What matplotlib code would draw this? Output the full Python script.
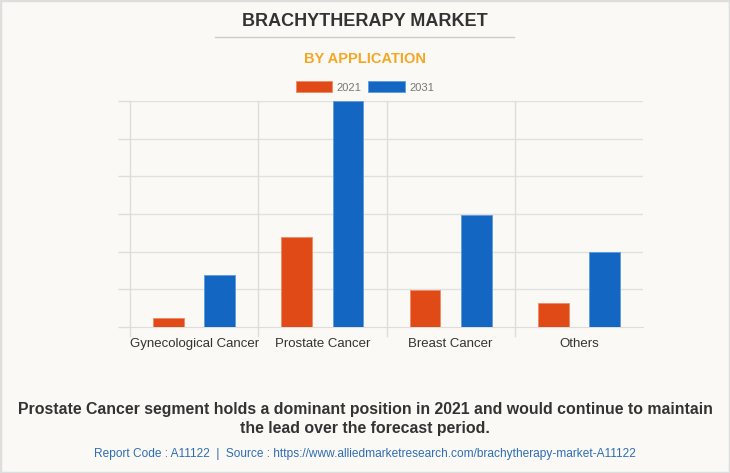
import matplotlib
matplotlib.use("Agg")
import matplotlib.pyplot as plt
from matplotlib.patches import Rectangle, Patch
from matplotlib.lines import Line2D
import numpy as np

categories = ["Gynecological Cancer", "Prostate Cancer", "Breast Cancer", "Others"]
series_names = ["2021", "2031"]
values_2021 = [0.24, 2.38, 0.98, 0.65]
values_2031 = [1.37, 6.0, 2.97, 2.0]
colors = ["#e04a16", "#1366c2"]
edge_colors = ["#ee8a66", "#5f9ae0"]

W, H = 730, 473
bg = "#faf9f5"
fig = plt.figure(figsize=(W / 100, H / 100), dpi=100, facecolor=bg)

# border
fig.patches.append(Rectangle((0, 0), 1, 1, transform=fig.transFigure,
                             fill=False, edgecolor="#dedede", linewidth=2.5))

def fx(px):
    return px / W

def fy(py):
    return 1 - py / H

fig.text(0.5, fy(21), "BRACHYTHERAPY MARKET", ha="center", va="center",
         fontsize=13, fontweight="bold", color="#333333", family="Liberation Sans")
fig.add_artist(Line2D([fx(215), fx(514)], [fy(37), fy(37)], color="#cccccc", lw=1))
fig.text(0.5, fy(59), "BY APPLICATION", ha="center", va="center",
         fontsize=10.5, fontweight="bold", color="#f5a623", family="Liberation Sans")

# axes
left, right, top, bottom = 130, 643, 101, 327
ax = fig.add_axes([fx(left), fy(bottom), fx(right - left), (bottom - top) / H])
ax.set_facecolor(bg)
n = len(categories)
x = np.arange(n)
bw = 0.24
off = 0.2
ax.bar(x - off, values_2021, bw, color=colors[0], edgecolor=edge_colors[0],
       linewidth=0.6, zorder=3)
ax.bar(x + off, values_2031, bw, color=colors[1], edgecolor=edge_colors[1],
       linewidth=0.6, zorder=3)
ax.set_xlim(-0.5, n - 0.5)
ax.set_ylim(0, 6)
ax.set_yticks(np.arange(0, 7, 1))
ax.set_yticklabels([])
ax.set_xticks(x)
ax.set_xticklabels(categories, fontsize=9.5, color="#333333", family="Liberation Sans")
ax.tick_params(axis="x", length=0, pad=8)
ax.tick_params(axis="y", length=9, color="#dddddd", width=1)
for yv in range(1, 7):
    ax.axhline(yv, color="#e0e0e0", lw=1, zorder=1)
for xb in np.arange(-0.5, n - 1, 1.0):
    ax.add_artist(Line2D([xb, xb], [-0.25, 6], color="#dddddd", lw=1, zorder=1,
                         clip_on=False))
for s in ["top", "right", "left"]:
    ax.spines[s].set_visible(False)
ax.spines["bottom"].set_color("#dddddd")

handles = [Patch(facecolor=colors[i], edgecolor=edge_colors[i], linewidth=0.6,
                 label=series_names[i]) for i in range(2)]
leg = fig.legend(handles=handles, loc="center", bbox_to_anchor=(0.5, fy(87)), ncol=2,
                 frameon=False, handlelength=3.3, handleheight=1.15, columnspacing=0.6,
                 handletextpad=0.4, prop={"family": "Liberation Sans", "size": 8})
for t in leg.get_texts():
    t.set_color("#777777")

fig.text(0.5, fy(409), "Prostate Cancer segment holds a dominant position in 2021 and would continue to maintain",
         ha="center", va="center", fontsize=11.45, fontweight="bold", color="#333333",
         family="Liberation Sans")
fig.text(0.5, fy(429), "the lead over the forecast period.",
         ha="center", va="center", fontsize=11.45, fontweight="bold", color="#333333",
         family="Liberation Sans")
fig.text(0.5, fy(454), "Report Code : A11122  |  Source : https://www.alliedmarketresearch.com/brachytherapy-market-A11122",
         ha="center", va="center", fontsize=8.6, color="#2f6db5", family="Liberation Sans")

fig.savefig("out.png", dpi=100, facecolor=bg)
